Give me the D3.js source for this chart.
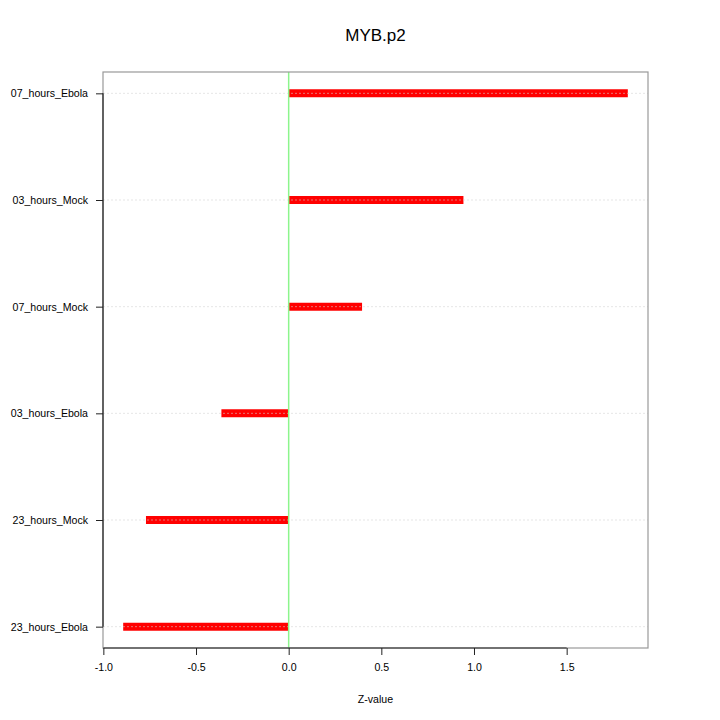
<!DOCTYPE html>
<html><head><meta charset="utf-8">
<script src="https://cdn.jsdelivr.net/npm/d3@7"></script>
<style>body{margin:0;background:#fff}svg{display:block}text{font-family:"Liberation Sans",Arial,sans-serif;fill:#000}</style>
</head><body>
<svg id="c" width="720" height="720"></svg>
<script>
// data, bottom to top
const categories = ["23_hours_Ebola","23_hours_Mock","03_hours_Ebola","07_hours_Mock","03_hours_Mock","07_hours_Ebola"];
const zvalues = [-0.893, -0.770, -0.363, 0.396, 0.943, 1.830];
const xTicks = [-1.0, -0.5, 0.0, 0.5, 1.0, 1.5];
const xTickLabels = ["-1.0", "-0.5", "0.0", "0.5", "1.0", "1.5"];
const title = "MYB.p2";
const xLabel = "Z-value";

const svg = d3.select("#c");
const L = 103, R = 648, T = 72, B = 648;

const lo = d3.min(zvalues), hi = d3.max(zvalues), span = hi - lo;
const x = d3.scaleLinear().domain([lo - 0.04*span, hi + 0.04*span]).range([L, R]);
const n = categories.length;
const y = d3.scaleLinear().domain([1 - 0.04*(n-1), n + 0.04*(n-1)]).range([B, T]);

// title
svg.append("text").attr("x", (L+R)/2).attr("y", 41).attr("text-anchor","middle")
  .style("font-size","17px").text(title);

// bars
svg.append("g").selectAll("line").data(zvalues).join("line")
  .attr("x1", x(0)).attr("x2", d => x(d))
  .attr("y1", (d,i) => y(i+1)).attr("y2", (d,i) => y(i+1))
  .attr("stroke", "#ff0000").attr("stroke-width", 8);

// grid lines
svg.append("g").selectAll("line").data(categories).join("line")
  .attr("x1", L).attr("x2", R)
  .attr("y1", (d,i) => y(i+1)).attr("y2", (d,i) => y(i+1))
  .attr("stroke", "#d3d3d3").attr("stroke-opacity", 0.7).attr("stroke-width", 0.8)
  .attr("stroke-dasharray", "2,2");

// zero line
svg.append("line").attr("x1", x(0)).attr("x2", x(0)).attr("y1", T).attr("y2", B)
  .attr("stroke", "#8cf58c").attr("stroke-width", 1.5);

// box
svg.append("rect").attr("x", L).attr("y", T).attr("width", R-L).attr("height", B-T)
  .attr("fill","none").attr("stroke","#999").attr("stroke-width",1.2);

// x axis
const xa = svg.append("g").attr("transform", `translate(0,${B})`)
  .call(d3.axisBottom(x).tickValues(xTicks).tickFormat((d,i) => xTickLabels[i]).tickSize(7).tickPadding(8));
xa.select(".domain").attr("d", `M${x(xTicks[0])},0H${x(xTicks[xTicks.length-1])}`).attr("stroke","#222").attr("stroke-width",1.2);
xa.selectAll(".tick line").attr("stroke","#222");
xa.selectAll("text").style("font-size","10.6px").attr("fill","#000");

// y axis
const ya = svg.append("g").attr("transform", `translate(${L},0)`)
  .call(d3.axisLeft(y).tickValues(d3.range(1, n+1)).tickFormat(d => categories[d-1]).tickSize(7).tickPadding(8));
ya.select(".domain").attr("d", `M0,${y(1)}V${y(n)}`).attr("stroke","#222").attr("stroke-width",1.2);
ya.selectAll(".tick line").attr("stroke","#222");
ya.selectAll("text").style("font-size","10.6px").attr("fill","#000");

// x label
svg.append("text").attr("x", (L+R)/2).attr("y", 703).attr("text-anchor","middle")
  .style("font-size","10.6px").text(xLabel);
</script>
</body></html>
